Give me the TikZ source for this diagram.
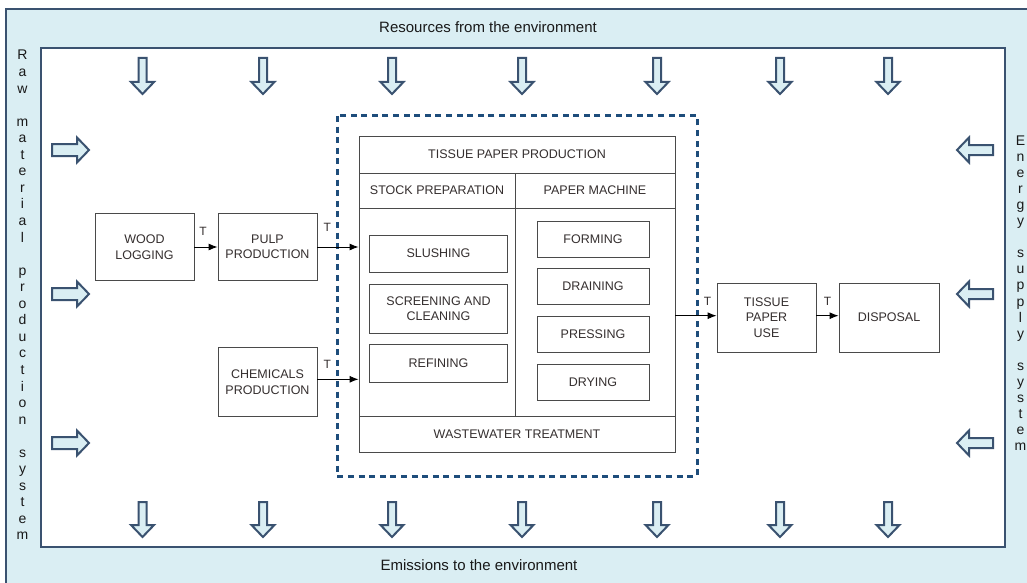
\documentclass[tikz,border=0pt]{standalone}
\usepackage{fontspec}
\setmainfont{Liberation Sans}
\usetikzlibrary{arrows.meta}
\definecolor{bandfill}{HTML}{DAEEF3}
\definecolor{bandline}{HTML}{3A5270}
\definecolor{dashblue}{HTML}{1E4D7B}
\definecolor{boxline}{HTML}{4A4A4A}
\definecolor{boxtext}{HTML}{352F2F}
\tikzset{
  envtext/.style={font=\fontsize{15}{18}\selectfont, text=black!90, inner sep=0},
  letter/.style={font=\fontsize{14}{16}\selectfont, text=black!90, inner sep=0, anchor=base},
  procbox/.style={draw=boxline, line width=0.9pt, align=center, inner sep=0,
     font=\fontsize{12.5}{15.5}\selectfont, text=boxtext},
  flow/.style={-{Latex[length=9pt,width=7pt]}, line width=0.9pt, black},
  tlabel/.style={font=\fontsize{12}{14}\selectfont, inner sep=0, text=boxtext},
  blockarr/.style={draw=bandline, fill=bandfill, line width=2pt, line join=miter},
  darr/.pic={\path[blockarr] (-4,0)--(4,0)--(4,24)--(11.5,24)--(0,36)--(-11.5,24)--(-4,24)--cycle;},
  barr/.pic={\path[blockarr] (-4,0)--(4,0)--(4,23)--(11.5,23)--(0,35)--(-11.5,23)--(-4,23)--cycle;},
  rarr/.pic={\path[blockarr] (0,-6)--(25,-6)--(25,-12.5)--(37,0)--(25,12.5)--(25,6)--(0,6)--cycle;},
  larr/.pic={\path[blockarr] (0,-5)--(-24,-5)--(-24,-12.5)--(-36,0)--(-24,12.5)--(-24,5)--(0,5)--cycle;}
}
\begin{document}
\begin{tikzpicture}[x=1pt,y=-1pt]
\useasboundingbox (0,0) rectangle (1027,583);
% bands
\path[fill=bandfill, draw=bandline, line width=2.2pt] (6,9) rectangle (1040,600);
\path[fill=white, draw=bandline, line width=2.2pt] (41,48) rectangle (1005,547);
\node[envtext] (res) at (488,27) {Resources from the environment};
\node[envtext] (emi) at (479,565) {Emissions to the environment};
% vertical texts
\foreach \c [count=\i] in {R,a,w,{},m,a,t,e,r,i,a,l,{},p,r,o,d,u,c,t,i,o,n,{},s,y,s,t,e,m}
  \node[letter] (L\i) at (22.5,{60+(\i-1)*16.55}) {\c};
\foreach \c [count=\i] in {E,n,e,r,g,y,{},s,u,p,p,l,y,{},s,y,s,t,e,m}
  \node[letter] (R\i) at (1020.5,{145.5+(\i-1)*16.05}) {\c};
% block arrows
\foreach \x in {142.5,263,392,522,657,780,888} {
  \pic at (\x,58) {darr};
  \pic at (\x,502) {barr};
}
\foreach \y in {150,294,443} {
  \pic at (52,\y) {rarr};
  \pic at (993,\y) {larr};
}
% dashed system boundary
\draw[dashblue, line width=3pt, dash pattern=on 6pt off 4.6pt] (337,116) rectangle (697,476);
% process boxes
\node[procbox, minimum width=99pt, minimum height=67pt] (wood) at (144.5,247) {WOOD\\LOGGING};
\node[procbox, minimum width=99pt, minimum height=67pt] (pulp) at (267.5,247) {PULP\\PRODUCTION};
\node[procbox, minimum width=99pt, minimum height=69pt] (chem) at (267.5,382) {CHEMICALS\\PRODUCTION};
\node[procbox, minimum width=316pt, minimum height=37pt] (tpp) at (517,154.5) {TISSUE PAPER PRODUCTION};
\node[procbox, minimum width=156pt, minimum height=35pt] (stock) at (437,190.5) {STOCK PREPARATION};
\node[procbox, minimum width=160pt, minimum height=35pt] (machine) at (595,190.5) {PAPER MACHINE};
\node[procbox, minimum width=156pt, minimum height=208pt] (stockbody) at (437,312) {};
\node[procbox, minimum width=160pt, minimum height=208pt] (machinebody) at (595,312) {};
\node[procbox, minimum width=316pt, minimum height=36pt] (waste) at (517,434) {WASTEWATER TREATMENT};
\node[procbox, minimum width=138pt, minimum height=37pt] (slush) at (438.5,253.5) {SLUSHING};
\node[procbox, minimum width=138pt, minimum height=49pt] (screen) at (438.5,308.5) {SCREENING AND\\CLEANING};
\node[procbox, minimum width=138pt, minimum height=38pt] (refin) at (438.5,363) {REFINING};
\node[procbox, minimum width=112pt, minimum height=36pt] (form) at (593,239) {FORMING};
\node[procbox, minimum width=112pt, minimum height=36pt] (drain) at (593,286) {DRAINING};
\node[procbox, minimum width=112pt, minimum height=36pt] (press) at (593,334) {PRESSING};
\node[procbox, minimum width=112pt, minimum height=36pt] (dry) at (593,382) {DRYING};
\node[procbox, minimum width=99pt, minimum height=69pt] (tuse) at (766.5,317.5) {TISSUE\\PAPER\\USE};
\node[procbox, minimum width=100pt, minimum height=69pt] (disp) at (889,317.5) {DISPOSAL};
% flows
\draw[flow] (wood.east) -- node[tlabel, pos=0.37, above=11pt] (t1) {T} (pulp.west);
\draw[flow] (pulp.east) -- node[tlabel, pos=0.24, above=15pt] (t2) {T} (pulp.east -| stockbody.west);
\draw[flow] ([yshift=2.7pt]chem.east) -- node[tlabel, pos=0.24, above=10pt] (t3) {T} ([yshift=2.7pt]chem.east -| stockbody.west);
\draw[flow] ([yshift=1.8pt]tuse.west -| machinebody.east) -- node[tlabel, pos=0.78, above=9.7pt] (t4) {T} ([yshift=1.8pt]tuse.west);
\draw[flow] ([yshift=1.8pt]tuse.east) -- node[tlabel, pos=0.5, above=9.7pt] (t5) {T} ([yshift=1.8pt]disp.west);
\end{tikzpicture}
\end{document}
